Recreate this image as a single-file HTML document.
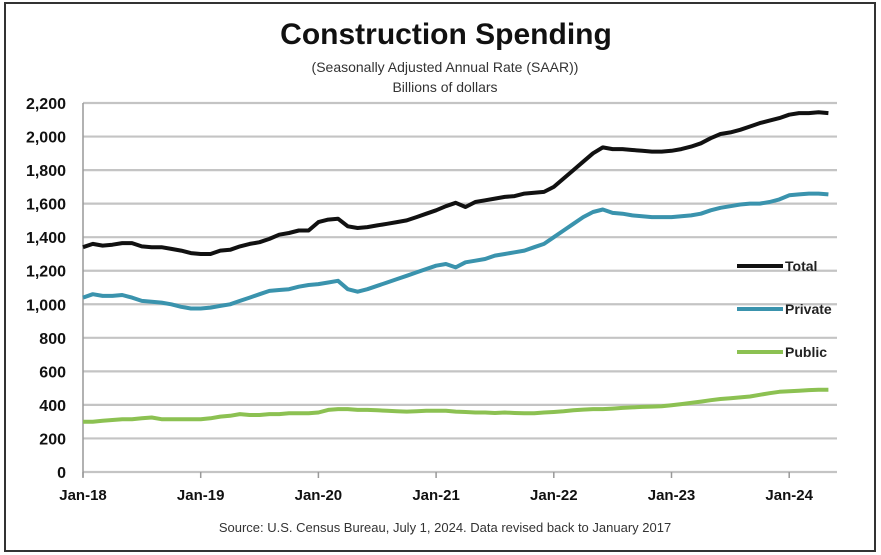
<!DOCTYPE html>
<html><head><meta charset="utf-8"><style>
body{margin:0;background:#fff;}
svg{display:block;font-family:"Liberation Sans",sans-serif;}
</style></head><body>
<svg id="c" width="881" height="555">
<rect x="5" y="3" width="870" height="548" fill="#fff" stroke="#333" stroke-width="2"/>
<text x="446" y="44" text-anchor="middle" font-size="30" font-weight="bold" fill="#111">Construction Spending</text>
<text x="445" y="72" text-anchor="middle" font-size="14" fill="#333">(Seasonally Adjusted Annual Rate (SAAR))</text>
<text x="445" y="92" text-anchor="middle" font-size="14" fill="#333">Billions of dollars</text>
<text x="445" y="532" text-anchor="middle" font-size="13" fill="#333">Source: U.S. Census Bureau, July 1, 2024. Data revised back to January 2017</text>
<g id="grid"></g><g id="axes"></g><g id="lines"></g><g id="legend"></g>
</svg>
<script>
const yTicks=[0,200,400,600,800,1000,1200,1400,1600,1800,2000,2200];
const yTickLabels=["0","200","400","600","800","1,000","1,200","1,400","1,600","1,800","2,000","2,200"];
const xTickLabels=["Jan-18","Jan-19","Jan-20","Jan-21","Jan-22","Jan-23","Jan-24"];
const total=[1340,1360,1350,1355,1365,1365,1345,1340,1340,1330,1320,1305,
1300,1300,1320,1325,1345,1360,1370,1390,1415,1425,1440,1440,
1490,1505,1510,1465,1455,1460,1470,1480,1490,1500,1520,1540,
1560,1585,1605,1580,1610,1620,1630,1640,1645,1660,1665,1670,
1700,1750,1800,1850,1900,1935,1925,1925,1920,1915,1910,1910,
1915,1925,1940,1960,1990,2015,2025,2040,2060,2080,2095,2110,
2130,2140,2140,2145,2140];
const privateS=[1040,1060,1050,1050,1055,1040,1020,1015,1010,1000,985,975,
975,980,990,1000,1020,1040,1060,1080,1085,1090,1105,1115,
1120,1130,1140,1090,1075,1090,1110,1130,1150,1170,1190,1210,
1230,1240,1220,1250,1260,1270,1290,1300,1310,1320,1340,1360,
1400,1440,1480,1520,1550,1565,1545,1540,1530,1525,1520,1520,
1520,1525,1530,1540,1560,1575,1585,1595,1600,1600,1610,1625,
1650,1655,1660,1660,1655];
const publicS=[300,300,305,310,315,315,320,325,315,315,315,315,
315,320,330,335,345,340,340,345,345,350,350,350,
355,370,375,375,370,370,368,365,362,360,362,365,
365,365,360,358,355,355,352,355,352,350,350,355,
358,362,368,372,375,375,378,382,385,388,390,392,
398,405,412,420,428,435,440,445,450,460,470,478,
482,485,488,490,490];
const seriesNames=["Total","Private","Public"];
const NS="http://www.w3.org/2000/svg";
const x0=83,x1=837,y0=472,y1=103,monthW=117.7/12;
function xs(i){return x0+i*monthW;}
function ys(v){return y0-(v/2200)*(y0-y1);}
function mk(t,a,p){const e=document.createElementNS(NS,t);for(const k in a)e.setAttribute(k,a[k]);p.appendChild(e);return e;}
const grid=document.getElementById('grid'),axes=document.getElementById('axes'),lines=document.getElementById('lines'),legend=document.getElementById('legend');
yTicks.forEach((v,i)=>{
 const g=mk('line',{x1:x0,x2:x1,y1:ys(v),y2:ys(v),stroke:'#c4c4c4','stroke-width':2.2},grid);
 
 
 const t=mk('text',{x:66,y:ys(v)+6,'text-anchor':'end','font-size':16,fill:'#111','font-weight':'600'},axes);
 t.textContent=yTickLabels[i];
 
 
});
const ax=mk('line',{x1:x0,x2:x0,y1:y1,y2:y0+5,stroke:'#999','stroke-width':1.5},axes);


xTickLabels.forEach((l,i)=>{
 const x=xs(i*12);
 const tk=mk('line',{x1:x,x2:x,y1:y0,y2:y0+6,stroke:'#999','stroke-width':1.5},axes);
 
 
 const t=mk('text',{x:x,y:500,'text-anchor':'middle','font-size':15,fill:'#111','font-weight':'600'},axes);
 t.textContent=l;
 
 
});
const data=[total,privateS,publicS],cols=['#111','#3a93ad','#8cc152'];
data.forEach((s,k)=>{
 const p=mk('polyline',{points:s.map((v,i)=>xs(i).toFixed(1)+','+ys(v).toFixed(1)).join(' '),fill:'none',stroke:cols[k],'stroke-width':4,'stroke-linejoin':'round'},lines);
 
 
 const ly=266+k*43;
 const ll=mk('line',{x1:737,x2:783,y1:ly,y2:ly,stroke:cols[k],'stroke-width':4},legend);
 
 
 const lt=mk('text',{x:785,y:ly+5,'font-size':14,'font-weight':'bold',fill:'#222'},legend);
 lt.textContent=seriesNames[k];
 
 
});
</script>
</body></html>
